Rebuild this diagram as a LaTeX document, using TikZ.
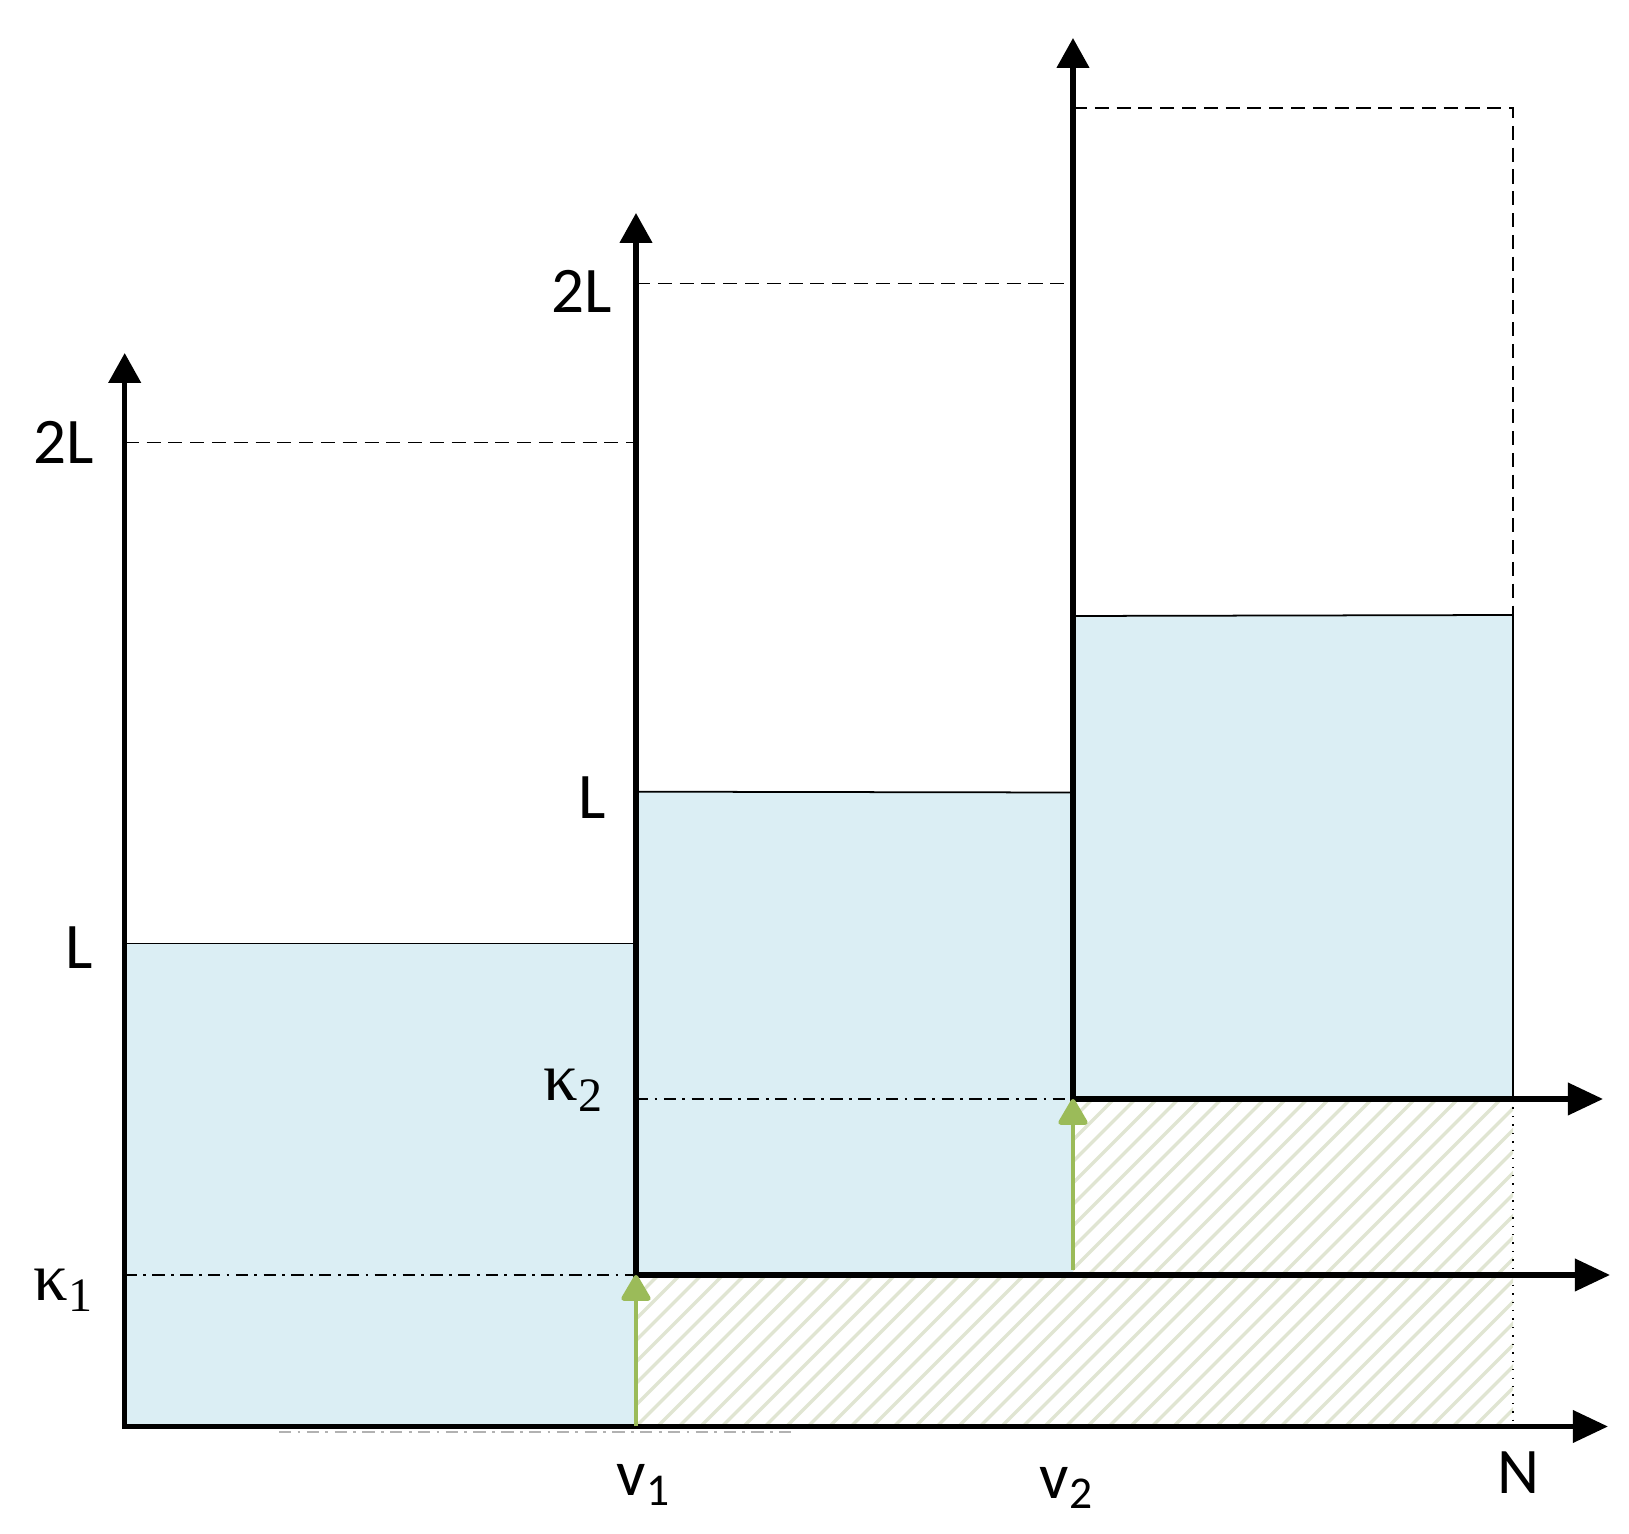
\documentclass[tikz,border=0pt]{standalone}
\usepackage{fontspec}
\setmainfont{Carlito}
\newfontfamily\kfont{Liberation Serif}
\usetikzlibrary{arrows.meta}
\definecolor{waterblue}{HTML}{DBEEF4}
\definecolor{arrgreen}{HTML}{9BBB59}
\definecolor{hatchcol}{HTML}{E0E5D2}
\begin{document}
\begin{tikzpicture}[x=0.01cm,y=-0.01cm,
  yaxis/.style={line width=1.5pt,-{Triangle[width=9pt,length=8.5pt]}},
  xaxis/.style={line width=1.5pt,-{Triangle[width=9pt,length=10pt]}},
  shiftarrow/.style={arrgreen,line width=1.3pt,-{Triangle[width=9pt,length=8pt,round]}},
  levelline/.style={line width=0.5pt},
  guideline/.style={line width=0.4pt,dash pattern=on 4pt off 2.2pt},
  kguide/.style={line width=0.4pt,dash pattern=on 3.5pt off 1.8pt on 0.8pt off 1.8pt},
  lab/.style={font=\fontsize{18.5}{22}\selectfont,inner sep=0pt},
  klab/.style={font=\kfont\fontsize{19.5}{22}\selectfont,inner sep=0pt}]
\useasboundingbox (0,0) rectangle (1629,1534);
% named points
\coordinate (O1) at (124.7,1426.5);
\coordinate (O2) at (636,1275);
\coordinate (O3) at (1073,1099);
\coordinate (X1) at (1608,1426.5);
\coordinate (X2) at (1610,1275);
\coordinate (X3) at (1603,1099);
\coordinate (Y1) at (124.7,353);
\coordinate (Y2) at (636,213);
\coordinate (Y3) at (1073,38);
\coordinate (NB) at (1513,1426.5);
\coordinate (NM) at (1513,1099);
% fills
\fill[waterblue] (124.7,943.4) rectangle (636,1426.5);
\fill[waterblue] (636,791.7) rectangle (1073,1275);
\fill[waterblue] (1073,616) rectangle (1513,1099);
% hatch
\begin{scope}
\clip (636,1426.5) -- (1513,1426.5) -- (1513,1099) -- (1073,1099) -- (1073,1275) -- (636,1275) -- cycle;
\foreach \i in {0,...,60} {
  \draw[hatchcol,line width=1pt] (300+\i*21.5,1440) -- ++(400,-400);
}
\end{scope}
% level lines
\draw[levelline] (124.7,943.4) -- (636,943.4);
\draw[levelline] (636,791.7) -- (1073,792.5);
\draw[levelline] (1073,616) -- (1513,615);
\draw[levelline] (1513,615) -- (NM);
% 2L guides
\draw[guideline] (124.7,442.6) -- (636,442.6);
\draw[guideline] (636,283.6) -- (1073,283.6);
\draw[guideline] (1073,108) -- (1513,108) -- (1513,615);
% kappa guides
\draw[kguide] (124.7,1275) -- (O2);
\draw[kguide] (636,1099) -- (O3);
\draw[gray!60,line width=0.4pt,dash pattern=on 3.5pt off 1.8pt on 0.8pt off 1.8pt] (279,1432) -- (792,1432);
% dotted N line
\draw[line width=0.4pt,dotted] (NM) -- (NB);
% axes
\draw[yaxis] ([yshift=-0.75pt]O1) -- (Y1);
\draw[xaxis] ([xshift=-0.75pt]O1) -- (X1);
\draw[yaxis] ([yshift=-0.75pt]O2) -- (Y2);
\draw[xaxis] ([xshift=-0.75pt]O2) -- (X2);
\draw[yaxis] ([yshift=-0.75pt]O3) -- (Y3);
\draw[xaxis] ([xshift=-0.75pt]O3) -- (X3);
% green shift arrows
\coordinate (G1) at (636,1426.5);
\coordinate (G2) at (1073,1270);
\draw[shiftarrow] (G1) -- (O2);
\draw[shiftarrow] (G2) -- (O3);
% labels
\node[lab] (l2L1) at (64,442) {2L};
\node[lab] (lL1) at (79,948) {L};
\node[klab] (k1) at (64,1290) {κ\textsubscript{1}};
\node[lab] (l2L2) at (582,291) {2L};
\node[lab] (lL2) at (592,798) {L};
\node[klab] (k2) at (574,1090) {κ\textsubscript{2}};
\node[lab] (v1) at (644,1485) {v\textsubscript{1}};
\node[lab] (v2) at (1067,1488) {v\textsubscript{2}};
\node[lab] (nN) at (1518,1473) {N};
\end{tikzpicture}
\end{document}
